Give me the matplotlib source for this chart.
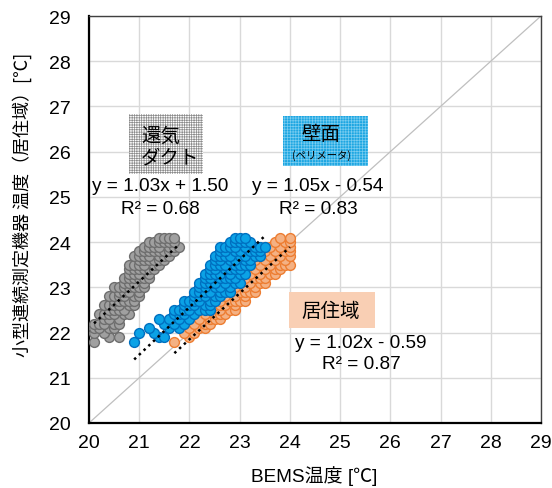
import matplotlib
matplotlib.use("Agg")
import matplotlib.pyplot as plt
from matplotlib.patches import Rectangle
import numpy as np

plt.rcParams['font.family'] = ['Liberation Sans', 'Noto Sans CJK JP']
plt.rcParams['hatch.linewidth'] = 0.5

# ---------------- data ----------------
# 還気ダクト (gray)
duct_x = [20.1,
          20.4, 20.6,
          20.1, 20.3,
          20.1, 20.2, 20.4, 20.5,
          20.1, 20.2, 20.3, 20.5, 20.6,
          20.3, 20.4, 20.6,
          20.2, 20.3, 20.4, 20.5, 20.7, 20.8,
          20.4, 20.5, 20.6, 20.7,
          20.3, 20.4, 20.5, 20.6, 20.8, 20.9,
          20.5, 20.6, 20.7, 20.8, 20.9,
          20.4, 20.5, 20.6, 20.7, 20.9, 21.0,
          20.6, 20.7, 20.8, 21.0,
          20.5, 20.6, 20.7, 20.8, 20.9, 21.0, 21.1,
          20.7, 20.8, 20.9, 21.1,
          20.7, 20.8, 20.9, 21.0, 21.1, 21.2,
          20.8, 20.9, 21.0, 21.2,
          20.8, 20.9, 21.0, 21.1, 21.2, 21.3,
          20.8, 20.9, 21.0, 21.1, 21.3, 21.4,
          21.0, 21.1, 21.2, 21.3, 21.4, 21.5,
          20.9, 21.0, 21.1, 21.2, 21.4, 21.5, 21.6,
          21.0, 21.1, 21.2, 21.3, 21.4, 21.5, 21.6, 21.7,
          21.1, 21.2, 21.3, 21.4, 21.6, 21.7, 21.8,
          21.2, 21.3, 21.4, 21.5, 21.6, 21.7,
          21.4, 21.5, 21.6, 21.7]
duct_y = [21.8,
          21.9, 21.9,
          22.0, 22.0,
          22.1, 22.1, 22.1, 22.1,
          22.2, 22.2, 22.2, 22.2, 22.2,
          22.3, 22.3, 22.3,
          22.4, 22.4, 22.4, 22.4, 22.4, 22.4,
          22.5, 22.5, 22.5, 22.5,
          22.6, 22.6, 22.6, 22.6, 22.6, 22.6,
          22.7, 22.7, 22.7, 22.7, 22.7,
          22.8, 22.8, 22.8, 22.8, 22.8, 22.8,
          22.9, 22.9, 22.9, 22.9,
          23.0, 23.0, 23.0, 23.0, 23.0, 23.0, 23.0,
          23.1, 23.1, 23.1, 23.1,
          23.2, 23.2, 23.2, 23.2, 23.2, 23.2,
          23.3, 23.3, 23.3, 23.3,
          23.4, 23.4, 23.4, 23.4, 23.4, 23.4,
          23.5, 23.5, 23.5, 23.5, 23.5, 23.5,
          23.6, 23.6, 23.6, 23.6, 23.6, 23.6,
          23.7, 23.7, 23.7, 23.7, 23.7, 23.7, 23.7,
          23.8, 23.8, 23.8, 23.8, 23.8, 23.8, 23.8, 23.8,
          23.9, 23.9, 23.9, 23.9, 23.9, 23.9, 23.9,
          24.0, 24.0, 24.0, 24.0, 24.0, 24.0,
          24.1, 24.1, 24.1, 24.1]

# 壁面(ペリメータ) (blue)
wall_x = [20.9,
          21.4, 21.5,
          21.0, 21.3,
          21.2, 21.6, 21.8,
          21.5, 21.7, 21.9,
          21.4, 21.6, 21.8, 22.0,
          21.7, 21.8, 21.9, 22.1,
          21.7, 21.8, 21.9, 22.0, 22.2, 22.3, 22.4,
          21.9, 22.0, 22.1, 22.3, 22.4,
          21.9, 22.0, 22.1, 22.2, 22.4, 22.5,
          22.1, 22.2, 22.3, 22.5, 22.6,
          22.1, 22.2, 22.3, 22.4, 22.6, 22.7, 22.8,
          22.2, 22.3, 22.5, 22.6, 22.8,
          22.2, 22.3, 22.4, 22.5, 22.7, 22.9, 23.0,
          22.3, 22.4, 22.6, 22.7, 22.8, 22.9,
          22.3, 22.4, 22.5, 22.6, 22.8, 23.0, 23.1,
          22.4, 22.5, 22.7, 22.8, 22.9, 23.0,
          22.4, 22.5, 22.6, 22.7, 22.9, 23.0, 23.1, 23.2,
          22.5, 22.6, 22.8, 22.9, 23.1, 23.2,
          22.5, 22.6, 22.7, 22.8, 23.0, 23.1, 23.3, 23.4,
          22.6, 22.7, 22.9, 23.0, 23.2, 23.3, 23.4,
          22.6, 22.7, 22.8, 22.9, 23.1, 23.3, 23.4, 23.5,
          22.8, 22.9, 23.0, 23.1, 23.2,
          22.9, 23.0, 23.1]
wall_y = [21.8,
          21.9, 21.9,
          22.0, 22.0,
          22.1, 22.1, 22.1,
          22.2, 22.2, 22.2,
          22.3, 22.3, 22.3, 22.3,
          22.4, 22.4, 22.4, 22.4,
          22.5, 22.5, 22.5, 22.5, 22.5, 22.5, 22.5,
          22.6, 22.6, 22.6, 22.6, 22.6,
          22.7, 22.7, 22.7, 22.7, 22.7, 22.7,
          22.8, 22.8, 22.8, 22.8, 22.8,
          22.9, 22.9, 22.9, 22.9, 22.9, 22.9, 22.9,
          23.0, 23.0, 23.0, 23.0, 23.0,
          23.1, 23.1, 23.1, 23.1, 23.1, 23.1, 23.1,
          23.2, 23.2, 23.2, 23.2, 23.2, 23.2,
          23.3, 23.3, 23.3, 23.3, 23.3, 23.3, 23.3,
          23.4, 23.4, 23.4, 23.4, 23.4, 23.4,
          23.5, 23.5, 23.5, 23.5, 23.5, 23.5, 23.5, 23.5,
          23.6, 23.6, 23.6, 23.6, 23.6, 23.6,
          23.7, 23.7, 23.7, 23.7, 23.7, 23.7, 23.7, 23.7,
          23.8, 23.8, 23.8, 23.8, 23.8, 23.8, 23.8,
          23.9, 23.9, 23.9, 23.9, 23.9, 23.9, 23.9, 23.9,
          24.0, 24.0, 24.0, 24.0, 24.0,
          24.1, 24.1, 24.1]

# 居住域 (orange)
room_x = [21.7,
          22.0,
          21.9, 22.1,
          22.0, 22.2, 22.3,
          21.9, 22.1, 22.3, 22.4,
          21.9, 22.0, 22.2, 22.4, 22.5, 22.6,
          22.1, 22.3, 22.5, 22.6, 22.7,
          22.1, 22.2, 22.4, 22.6, 22.8, 22.9,
          22.3, 22.5, 22.6, 22.7, 22.9,
          22.3, 22.4, 22.6, 22.8, 22.9, 23.0, 23.1,
          22.5, 22.7, 22.9, 23.1,
          22.5, 22.6, 22.8, 23.0, 23.1, 23.2, 23.3,
          22.7, 22.9, 23.1, 23.3,
          22.7, 22.8, 23.0, 23.2, 23.4, 23.5,
          22.9, 23.1, 23.3, 23.4, 23.5,
          22.9, 23.0, 23.2, 23.4, 23.6, 23.7,
          23.1, 23.3, 23.5, 23.7, 23.8,
          23.1, 23.2, 23.4, 23.6, 23.8, 23.9, 24.0,
          23.3, 23.5, 23.7, 23.9,
          23.3, 23.4, 23.6, 23.8, 24.0,
          23.5, 23.7, 23.9, 24.0,
          23.5, 23.6, 23.8, 24.0,
          23.7, 23.9, 24.0,
          23.8, 24.0]
room_y = [21.8,
          21.9,
          22.0, 22.0,
          22.1, 22.1, 22.1,
          22.2, 22.2, 22.2, 22.2,
          22.3, 22.3, 22.3, 22.3, 22.3, 22.3,
          22.4, 22.4, 22.4, 22.4, 22.4,
          22.5, 22.5, 22.5, 22.5, 22.5, 22.5,
          22.6, 22.6, 22.6, 22.6, 22.6,
          22.7, 22.7, 22.7, 22.7, 22.7, 22.7, 22.7,
          22.8, 22.8, 22.8, 22.8,
          22.9, 22.9, 22.9, 22.9, 22.9, 22.9, 22.9,
          23.0, 23.0, 23.0, 23.0,
          23.1, 23.1, 23.1, 23.1, 23.1, 23.1,
          23.2, 23.2, 23.2, 23.2, 23.2,
          23.3, 23.3, 23.3, 23.3, 23.3, 23.3,
          23.4, 23.4, 23.4, 23.4, 23.4,
          23.5, 23.5, 23.5, 23.5, 23.5, 23.5, 23.5,
          23.6, 23.6, 23.6, 23.6,
          23.7, 23.7, 23.7, 23.7, 23.7,
          23.8, 23.8, 23.8, 23.8,
          23.9, 23.9, 23.9, 23.9,
          24.0, 24.0, 24.0,
          24.1, 24.1]

# trend line coefficients (slope, intercept) as shown on the chart
duct_fit = (1.03, 1.50)
wall_fit = (1.05, -0.54)
room_fit = (1.02, -0.59)

duct_eq = ["y = 1.03x + 1.50", "R² = 0.68"]
wall_eq = ["y = 1.05x - 0.54", "R² = 0.83"]
room_eq = ["y = 1.02x - 0.59", "R² = 0.87"]

ticks = list(range(20, 30))

# ---------------- figure ----------------
W, H = 552, 489
fig = plt.figure(figsize=(W / 100, H / 100), dpi=100)
ax = fig.add_axes([89 / W, 1 - 424 / H, (541 - 89) / W, (424 - 17) / H])
ax.set_xlim(20, 29)
ax.set_ylim(20, 29)
ax.set_xticks(ticks)
ax.set_yticks(ticks)
ax.tick_params(axis='both', length=0, labelsize=14)
ax.tick_params(axis='x', pad=8)
ax.tick_params(axis='y', pad=13)
ax.grid(True, color='#D9D9D9', linewidth=1)
ax.set_axisbelow(True)
for s in ['left', 'bottom']:
    ax.spines[s].set_color('black')
    ax.spines[s].set_linewidth(1.6)
for s in ['top', 'right']:
    ax.spines[s].set_color('#404040')
    ax.spines[s].set_linewidth(1.0)

# y = x reference line
ax.plot([20, 29], [20, 29], color='#BFBFBF', linewidth=0.9, zorder=1)

ms = 50
ax.scatter(duct_x, duct_y, s=ms, facecolor='#A0A0A0', edgecolor='#6E6E6E', linewidth=1, zorder=3)
ax.scatter(room_x, room_y, s=ms, facecolor='#F4B183', edgecolor='#ED7D31', linewidth=1, zorder=3)
ax.scatter(wall_x, wall_y, s=ms, facecolor='#0BA2E6', edgecolor='#0070C0', linewidth=1, zorder=3)

for xs, fit in [(duct_x, duct_fit), (wall_x, wall_fit), (room_x, room_fit)]:
    xx = np.array([min(xs), max(xs)])
    ax.plot(xx, fit[0] * xx + fit[1], color='black', linewidth=1.8,
            linestyle=(0, (1, 1.6)), zorder=4)

# pixel helpers for annotations
def fx(px):
    return px / W

def fy(py):
    return 1 - py / H

# label boxes
fig.patches.append(Rectangle((fx(129), fy(175)), (203 - 129) / W, (175 - 115) / H,
                             transform=fig.transFigure, facecolor='white',
                             edgecolor='#8C8C8C', hatch='+' * 7, linewidth=0, zorder=5))
fig.patches.append(Rectangle((fx(283), fy(167)), (368 - 283) / W, (167 - 117) / H,
                             transform=fig.transFigure, facecolor='#1DA6E2',
                             edgecolor='#7ACDF0', hatch='+' * 6, linewidth=0, zorder=5))
fig.patches.append(Rectangle((fx(289), fy(329)), (375 - 289) / W, (329 - 293) / H,
                             transform=fig.transFigure, facecolor='#F9CFB4',
                             edgecolor='#F9CFB4', linewidth=0, zorder=5))

jp = 'Noto Sans CJK JP'
fig.text(fx(141), fy(136), "還気", fontsize=14, family=jp, ha='left', va='center', zorder=6)
fig.text(fx(141), fy(158), "ダクト", fontsize=14, family=jp, ha='left', va='center', zorder=6)
fig.text(fx(321), fy(135), "壁面", fontsize=14, family=jp, ha='center', va='center', zorder=6)
fig.text(fx(321), fy(156), "(ペリメータ)", fontsize=7.5, family=jp, ha='center', va='center', zorder=6)
fig.text(fx(331), fy(311), "居住域", fontsize=14, family=jp, ha='center', va='center', zorder=6)

# equations
for eq, cx, y1, y2 in [(duct_eq, 160, 187, 209), (wall_eq, 318, 187, 210), (room_eq, 361, 343, 365)]:
    fig.text(fx(cx), fy(y1), eq[0], fontsize=13.7, ha='center', va='center', zorder=6)
    fig.text(fx(cx), fy(y2), eq[1], fontsize=13.7, ha='center', va='center', zorder=6)

fig.text(fx(22), fy(205), "小型連続測定機器 温度（居住域）[℃]", rotation=90, fontsize=13,
         family=[jp, 'Liberation Sans'], ha='center', va='center')
fig.text(fx(314), fy(476), "BEMS温度 [℃]", fontsize=13.7,
         family=['Liberation Sans', jp], ha='center', va='center')

fig.savefig("out.png", dpi=100)
